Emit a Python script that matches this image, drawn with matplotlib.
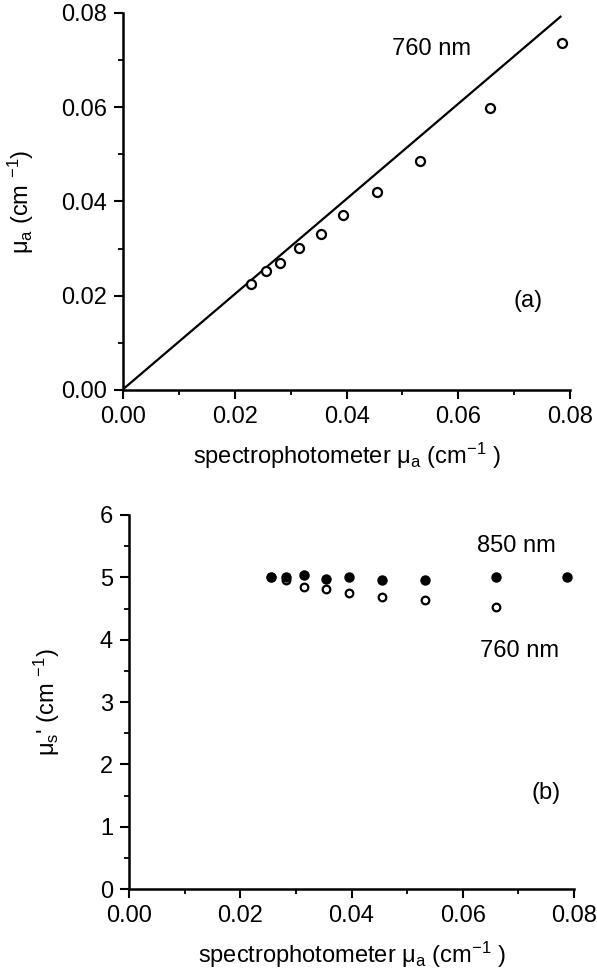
import numpy as np
import matplotlib
matplotlib.use('Agg')
import matplotlib.pyplot as plt
from matplotlib.ticker import MultipleLocator, FormatStrFormatter

plt.rcParams['font.family'] = ['Liberation Sans', 'DejaVu Sans']
plt.rcParams['mathtext.fontset'] = 'custom'
plt.rcParams['mathtext.rm'] = 'Liberation Sans'

# (a) mu_a fitted vs spectrophotometer, 760 nm
spec_a = [0.0229, 0.0256, 0.0281, 0.0314, 0.0354, 0.0393, 0.0454, 0.0531, 0.0657, 0.0786]
mua_760 = [0.0225, 0.0252, 0.0269, 0.0302, 0.0332, 0.0372, 0.0420, 0.0486, 0.0599, 0.0737]
fit_x = [0.0, 0.0783]
fit_y = [0.0002, 0.0792]

# (b) reduced scattering vs spectrophotometer mu_a
spec_b = [0.0256, 0.0282, 0.0315, 0.0355, 0.0395, 0.0455, 0.0533, 0.0659, 0.0788]
mus_850 = [5.00, 5.00, 5.04, 4.98, 5.01, 4.95, 4.96, 5.00, 5.00]
mus_760 = [5.00, 4.95, 4.84, 4.81, 4.75, 4.69, 4.63, 4.53]

FS = 17
xlab = r'spectrophotometer $\mathregular{\mu_a}$ (cm$\mathregular{^{-1}}$ )'

fig = plt.figure(figsize=(5.97, 9.74), dpi=100)
ax1 = fig.add_axes([0.2065, 0.5996, 0.7482, 0.3871])
ax2 = fig.add_axes([0.2161, 0.0870, 0.7454, 0.3843])

def style(ax):
    for s in ['top', 'right']:
        ax.spines[s].set_visible(False)
    for s in ['left', 'bottom']:
        ax.spines[s].set_linewidth(1.8)
    ax.tick_params(which='major', direction='out', length=6.5, width=1.5,
                   labelsize=FS, pad=5)
    ax.tick_params(which='minor', direction='out', length=3.5, width=1.3)
    ax.xaxis.set_major_locator(MultipleLocator(0.02))
    ax.xaxis.set_minor_locator(MultipleLocator(0.01))
    ax.xaxis.set_major_formatter(FormatStrFormatter('%.2f'))
    ax.set_xlim(0, 0.08)
    ax.set_xlabel(xlab, fontsize=FS, labelpad=9)

style(ax1)
ax1.plot(fit_x, fit_y, color='black', lw=1.6)
ax1.plot(spec_a, mua_760, 'o', mfc='white', mec='black', mew=1.6, ms=6.5)
ax1.set_ylim(0, 0.08)
ax1.yaxis.set_major_locator(MultipleLocator(0.02))
ax1.yaxis.set_minor_locator(MultipleLocator(0.01))
ax1.yaxis.set_major_formatter(FormatStrFormatter('%.2f'))
ax1.set_ylabel(r'$\mathregular{\mu_a}$ (cm $\mathregular{^{-1}}$)', fontsize=FS, labelpad=18)
ax1.text(0.0482, 0.0723, '760 nm', fontsize=FS, va='center', ha='left')
ax1.text(0.0699, 0.0189, '(a)', fontsize=FS, va='center', ha='left')

style(ax2)
ax2.plot(spec_b[:len(mus_760)], mus_760, 'o', mfc='white', mec='black', mew=1.6, ms=5.5)
ax2.plot(spec_b, mus_850, 'o', mfc='black', mec='black', ms=6.5)
ax2.set_ylim(0, 6)
ax2.yaxis.set_major_locator(MultipleLocator(1))
ax2.yaxis.set_minor_locator(MultipleLocator(0.5))
ax2.set_ylabel(r"$\mathregular{\mu_s}$' (cm $\mathregular{^{-1}}$)", fontsize=FS, labelpad=27)
ax2.text(0.0626, 5.51, '850 nm', fontsize=FS, va='center', ha='left')
ax2.text(0.0631, 3.82, '760 nm', fontsize=FS, va='center', ha='left')
ax2.text(0.0723, 1.54, '(b)', fontsize=FS, va='center', ha='left')

fig.savefig('out.png', dpi=100)
